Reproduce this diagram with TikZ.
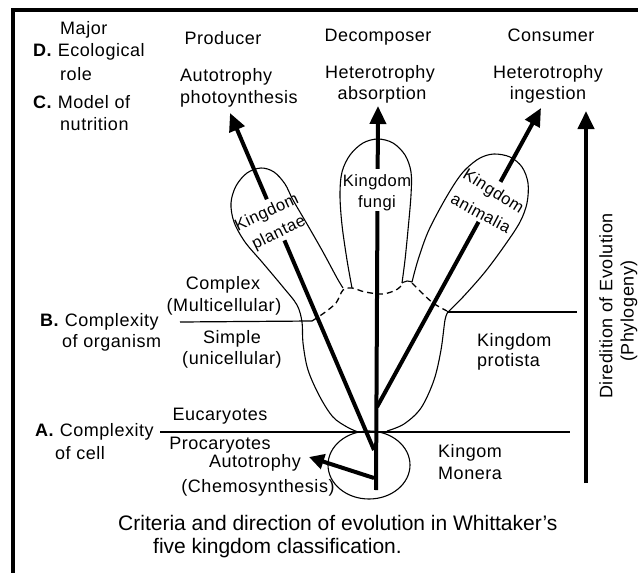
\documentclass[tikz,border=0pt]{standalone}
\usepackage{fontspec}
\setmainfont{Liberation Sans}
\newfontfamily\labfont{Liberation Sans}[LetterSpace=3]
\newfontfamily\captfont{Liberation Sans}
\usetikzlibrary{arrows.meta,calc,shapes.geometric}
\begin{document}
\begin{tikzpicture}[x=1pt,y=-1pt,
  lbl/.style={inner sep=0pt, font=\labfont\fontsize{18}{20}\selectfont},
  klbl/.style={inner sep=0pt, font=\labfont\fontsize{16.5}{19}\selectfont},
  capt/.style={inner sep=0pt, anchor=west, font=\captfont\fontsize{21}{24}\selectfont},
  frame/.style={line width=4pt},
  outline/.style={line width=1.1pt},
  hline/.style={line width=1.2pt},
  boundary/.style={line width=1.3pt, dash pattern=on 6pt off 4pt},
  evo/.style={line width=4pt, -{Triangle[length=18pt,width=16pt]}},
  evoline/.style={line width=4pt},
  chemo/.style={line width=4pt, -{Triangle[length=15pt,width=15pt]}}
]
\useasboundingbox (0,0) rectangle (638,573);

% frame
\coordinate (fb) at (13,573);
\coordinate (fc) at (13,10);
\coordinate (fr) at (638,10);
\draw[frame] (fb) -- (fc) -- (fr);

% horizontal criteria lines
\coordinate (bl1) at (180,322);
\coordinate (bl2) at (312,321);
\coordinate (br1) at (447,312);
\coordinate (br2) at (577,312);
\coordinate (al1) at (160,432);
\coordinate (al2) at (570,432);
\draw[hline] (bl1) -- (bl2);
\draw[hline] (br1) -- (br2);
\draw[hline] (al1) -- (al2);

% Monera circle
\node[draw, outline, ellipse, minimum width=82pt, minimum height=68pt, inner sep=0pt] (monera) at (369,465) {};

% plantae lobe + protista left outline
\draw[outline] plot[smooth, tension=0.55] coordinates {
 (343,288) (337,278) (323,252) (307,224) (293,200) (285,184) (274,172) (261,168)
 (247,173) (236,186) (231,203) (234,222) (245,242) (262,262) (283,287) (297,305)
 (302,322) (303,343) (308,370) (320,397) (333,417) (347,427) (358,432)};

% fungi lobe
\draw[outline] plot[smooth, tension=0.55] coordinates {
 (352,288) (347,260) (342,225) (340,195) (342,172) (350,155) (363,143) (378,139)
 (393,143) (405,155) (411,172) (411,195) (408,230) (405,260) (402,283)};
\draw[outline] plot[smooth, tension=0.6] coordinates {(402,283) (407,281) (412,282)};

% animalia lobe
\draw[outline] plot[smooth, tension=0.55] coordinates {
 (412,282) (418,260) (428,232) (443,203) (457,180) (467,168) (480,158) (494,154)
 (510,157) (522,167) (528,183) (527,203) (520,222) (505,245) (485,272) (463,297) (448,312)};
% protista right outline
\draw[outline] plot[smooth, tension=0.55] coordinates {
 (448,312) (445,320) (441,350) (434,380) (421,408) (404,424) (387,431)};

% complex / simple boundary (dashed)
\draw[boundary] plot[smooth, tension=0.5] coordinates {
 (312,321) (324,313) (336,303) (343,290) (352,288) (365,292) (383,294) (396,290) (402,285)};
\draw[boundary] plot[smooth, tension=0.5] coordinates {
 (412,283) (420,291) (433,303) (447,311)};

% evolution lines
\coordinate (base) at (376,490);
\coordinate (fungtip) at (378,106);
\coordinate (plb) at (374,450);
\coordinate (pltip) at (230,113);
\coordinate (anb) at (377,407);
\coordinate (antip) at (541,108);
\coordinate (chb) at (374,478);
\coordinate (chtip) at (309,457);

\draw[evoline] (base) -- ($(base)!0.726!(fungtip)$);
\draw[evo] ($(base)!0.836!(fungtip)$) -- (fungtip);
\draw[evoline] (plb) -- ($(plb)!0.622!(pltip)$);
\draw[evo] ($(plb)!0.744!(pltip)$) -- (pltip);
\draw[evoline] (anb) -- ($(anb)!0.619!(antip)$);
\draw[evo] ($(anb)!0.753!(antip)$) -- (antip);
\draw[chemo] (chb) -- (chtip);

% direction of evolution arrow
\coordinate (dirb) at (586,483);
\coordinate (dirt) at (586,111);
\draw[evo] (dirb) -- (dirt);
\node[lbl, rotate=90] (dirlab) at (606,306) {Diredition of Evolution};
\node[lbl, rotate=90] (phylab) at (629,311) {(Phylogeny)};

% top labels
\node[lbl] (prod) at (223,38) {Producer};
\node[lbl] (decomp) at (378,37) {Decomposer};
\node[lbl] (cons) at (551,35) {Consumer};
\node[lbl, anchor=west] (auto1) at (180,77) {Autotrophy};
\node[lbl, anchor=west] (photo) at (180,99) {photoynthesis};
\node[lbl] (het1) at (380,74) {Heterotrophy};
\node[lbl] (absorp) at (382,95) {absorption};
\node[lbl] (het2) at (548,74) {Heterotrophy};
\node[lbl] (inges) at (548,95) {ingestion};

% left criteria labels
\node[lbl, anchor=west] (major) at (60,30) {Major};
\node[lbl, anchor=west] (ecol) at (33,52) {\textbf{D.} Ecological};
\node[lbl, anchor=west] (role) at (60,74) {role};
\node[lbl, anchor=west] (model) at (33,102) {\textbf{C.} Model of};
\node[lbl, anchor=west] (nutr) at (60,124) {nutrition};
\node[lbl, anchor=west] (bcomp) at (40,322) {\textbf{B.} Complexity};
\node[lbl, anchor=west] (org) at (62,343) {of organism};
\node[lbl, anchor=west] (acomp) at (35,432) {\textbf{A.} Complexity};
\node[lbl, anchor=west] (cell) at (55,453) {of cell};

% middle labels
\node[lbl] (complex) at (223,285) {Complex};
\node[lbl] (multi) at (224,307) {(Multicellular)};
\node[lbl] (simple) at (232,339) {Simple};
\node[lbl] (uni) at (232,360) {(unicellular)};
\node[lbl] (euc) at (220,416) {Eucaryotes};
\node[lbl] (proc) at (220,445) {Procaryotes};
\node[lbl] (auto2) at (255,463) {Autotrophy};
\node[lbl] (chemo) at (258,488) {(Chemosynthesis)};

% kingdom labels
\node[klbl, rotate=25] (kpl1) at (267,213) {Kingdom};
\node[klbl, rotate=26] (kpl2) at (279,233) {plantae};
\node[klbl] (kfu1) at (377,182) {Kingdom};
\node[klbl] (kfu2) at (377,203) {fungi};
\node[klbl, rotate=-32] (kan1) at (493,192) {Kingdom};
\node[klbl, rotate=-28] (kan2) at (481,213) {animalia};
\node[lbl, anchor=west] (kpr1) at (477,342) {Kingdom};
\node[lbl, anchor=west] (kpr2) at (477,362) {protista};
\node[lbl, anchor=west] (kmo1) at (438,453) {Kingom};
\node[lbl, anchor=west] (kmo2) at (438,473) {Monera};

% caption
\node[capt] (cap1) at (118,523) {Criteria and direction of evolution in Whittaker’s};
\node[capt] (cap2) at (153,548) {five kingdom classification.};
\end{tikzpicture}
\end{document}
